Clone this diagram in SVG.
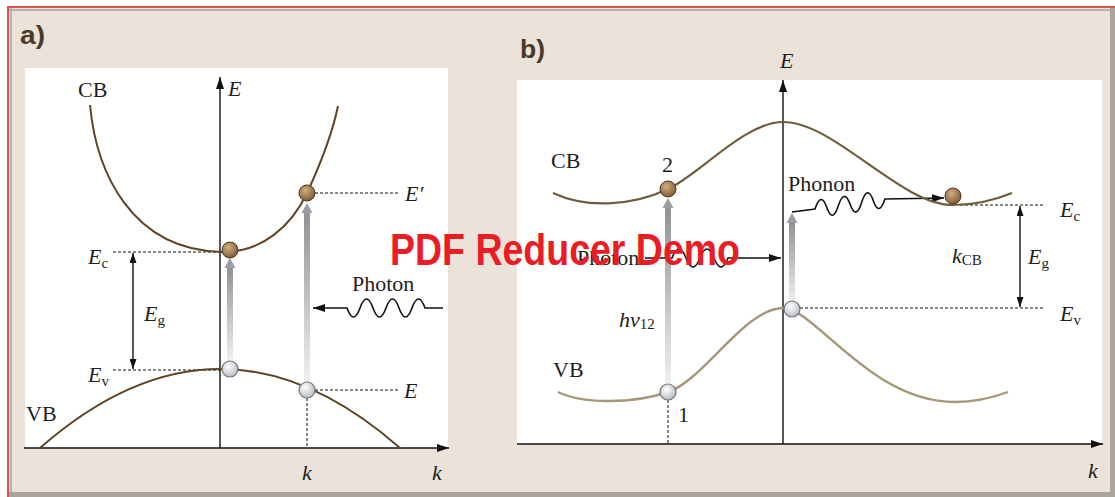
<svg xmlns="http://www.w3.org/2000/svg" width="1115" height="497" viewBox="0 0 1115 497">
<style>
.t{font-family:"Liberation Serif",serif;font-size:22px;fill:#1e1e1e}
.i{font-style:italic}
.s{font-size:15px;font-style:normal}
.pl{font-family:"Liberation Sans",Arial,sans-serif;font-weight:bold;font-size:26px;fill:#4a3a2c}
.ax{stroke:#111;stroke-width:1.4;fill:none}
.dash{stroke:#111;stroke-width:1;stroke-dasharray:3 2;fill:none}
.cbA{stroke:#5e4526;stroke-width:2;fill:none}
.cbB{stroke:#6f5d3e;stroke-width:2.2;fill:none}
.vbB{stroke:#a7977a;stroke-width:2.4;fill:none}
.wave{stroke:#111;stroke-width:1.6;fill:none}
</style>
<defs>
<marker id="ah" viewBox="0 0 12 8" refX="12" refY="4" markerWidth="12" markerHeight="8" markerUnits="userSpaceOnUse" orient="auto-start-reverse"><path d="M0,0 L12,4 L0,8 z" fill="#111"/></marker>
<marker id="ahs" viewBox="0 0 10 7" refX="10" refY="3.5" markerWidth="10" markerHeight="7" markerUnits="userSpaceOnUse" orient="auto-start-reverse"><path d="M0,0 L10,3.5 L0,7 z" fill="#111"/></marker>
<linearGradient id="gg" x1="0" y1="0" x2="0" y2="1"><stop offset="0" stop-color="#8e9398"/><stop offset="1" stop-color="#f0f0f0"/></linearGradient>
<radialGradient id="brown" cx="0.4" cy="0.35" r="0.7"><stop offset="0" stop-color="#d2ae82"/><stop offset="1" stop-color="#7a5631"/></radialGradient>
<radialGradient id="white" cx="0.4" cy="0.35" r="0.7"><stop offset="0" stop-color="#ffffff"/><stop offset="1" stop-color="#b4b8bd"/></radialGradient>
</defs>
<rect x="0" y="0" width="1115" height="497" fill="#ffffff"/>
<rect x="7" y="7" width="1108" height="490" fill="#ebe3d9"/>
<rect x="1110" y="8" width="5" height="489" fill="#aaa49e"/>
<rect x="7" y="492" width="1108" height="5" fill="#aaa49e"/>
<line x1="8" y1="10" x2="1110" y2="10" stroke="#b9b3ad" stroke-width="2"/>
<line x1="11" y1="8" x2="11" y2="492" stroke="#b9b3ad" stroke-width="2"/>
<line x1="7" y1="7" x2="1115" y2="7" stroke="#d9534f" stroke-width="2"/>
<line x1="8" y1="7" x2="8" y2="497" stroke="#d9534f" stroke-width="2"/>
<rect x="25" y="68" width="423" height="380" fill="#ffffff"/>
<rect x="517" y="80" width="585" height="364" fill="#ffffff"/>
<text class="pl" x="20" y="44" textLength="25" lengthAdjust="spacingAndGlyphs">a)</text>
<text class="pl" x="520" y="58" textLength="25" lengthAdjust="spacingAndGlyphs">b)</text>

<g id="connectors">
<line class="ax" x1="24" y1="448" x2="449" y2="448" marker-end="url(#ah)"/>
<line class="ax" x1="220" y1="448" x2="220" y2="77" stroke-width="1.1" marker-end="url(#ah)"/>
<line class="ax" x1="517" y1="444" x2="1103" y2="444" marker-end="url(#ah)"/>
<line class="ax" x1="783" y1="444" x2="783" y2="80" stroke-width="1.1" marker-end="url(#ah)"/>
<line class="dash" x1="113" y1="252" x2="222" y2="252"/>
<line class="dash" x1="113" y1="370" x2="222" y2="370"/>
<line class="dash" x1="315" y1="193" x2="398" y2="193"/>
<line class="dash" x1="315" y1="390" x2="400" y2="390"/>
<line class="dash" x1="307" y1="398" x2="307" y2="448"/>
<line class="dash" x1="960" y1="205" x2="1045" y2="205"/>
<line class="dash" x1="800" y1="308" x2="1045" y2="308"/>
<line class="dash" x1="668" y1="400" x2="668" y2="444"/>
<line class="ax" x1="133" y1="253" x2="133" y2="369" stroke-width="1.2" marker-start="url(#ahs)" marker-end="url(#ahs)"/>
<line class="ax" x1="1020" y1="206" x2="1020" y2="307" stroke-width="1.2" marker-start="url(#ahs)" marker-end="url(#ahs)"/>
<path class="wave" d="M443,308 L425,308 Q418.5,290 412,308 T399,308 T386,308 T373,308 T360,308 T347,308 L313,308" marker-end="url(#ah)"/>
<path class="wave" d="M792,212 L815,209 Q821,191 826.7,207.3 Q832.5,224 838.3,205.7 Q844,188 850,204 Q856,221 861.7,202.3 Q867.5,184 873.3,200.7 Q879,217 885,199 L944,198" marker-end="url(#ah)"/>
<path class="wave" d="M645,258 L672,258 Q679,240 686,258 T700,258 T714,258 T728,258 L781,258" marker-end="url(#ah)"/>
</g>

<g id="band-a-cb"><path class="cbA" d="M90,105 C96,170 130,250 222,252 C262,253 292,225 307,193 C320,165 332,135 338,106"/></g>
<g id="band-a-vb"><path class="cbA" d="M40,448 Q220,290 400,448"/></g>
<g id="band-b-cb"><path class="cbB" d="M553,193 C585,208 630,207 668,189 C700,174 745,122 783,122 C835,122 900,205 953,205 C975,205 995,200 1012,193"/></g>
<g id="band-b-vb"><path class="vbB" d="M558,392 C580,403 630,405 668,392 C703,381 745,308 783,308 C815,308 870,402 955,402 C975,402 992,398 1008,392"/></g>

<g id="transitions">
<rect x="227" y="266" width="6" height="96" fill="url(#gg)"/><polygon points="230,258 224.5,268 235.5,268" fill="#9a9ea3"/>
<rect x="304" y="212" width="6" height="170" fill="url(#gg)"/><polygon points="307,203 301.5,213 312.5,213" fill="#9a9ea3"/>
<rect x="665" y="206" width="6" height="178" fill="url(#gg)"/><polygon points="668,198 662.5,208 673.5,208" fill="#9a9ea3"/>
<rect x="789" y="222" width="6" height="80" fill="url(#gg)"/><polygon points="792,213 786.5,223 797.5,223" fill="#9a9ea3"/>
</g>

<g id="electrons" stroke="#4f3a22" stroke-width="1">
<circle cx="230" cy="250" r="8" fill="url(#brown)"/>
<circle cx="307" cy="193" r="8" fill="url(#brown)"/>
<circle cx="668" cy="189" r="8" fill="url(#brown)"/>
<circle cx="953" cy="196" r="8" fill="url(#brown)"/>
</g>
<g id="holes" stroke="#6e747b" stroke-width="1.2">
<circle cx="230" cy="369" r="8" fill="url(#white)"/>
<circle cx="307" cy="390" r="8" fill="url(#white)"/>
<circle cx="668" cy="392" r="8" fill="url(#white)"/>
<circle cx="792" cy="309" r="8" fill="url(#white)"/>
</g>

<g id="labels-a">
<text class="t" x="78" y="97">CB</text>
<text class="t i" x="228" y="96">E</text>
<text class="t i" x="405" y="201">E′</text>
<text class="t i" x="88" y="264">E<tspan class="s" dy="4">c</tspan></text>
<text class="t i" x="144" y="321">E<tspan class="s" dy="4">g</tspan></text>
<text class="t i" x="88" y="382">E<tspan class="s" dy="4">v</tspan></text>
<text class="t" x="26" y="421">VB</text>
<text class="t i" x="404" y="398">E</text>
<text class="t" x="352" y="291">Photon</text>
<text class="t i" x="302" y="480">k</text>
<text class="t i" x="432" y="480">k</text>
</g>
<g id="labels-b">
<text class="t i" x="780" y="68">E</text>
<text class="t" x="551" y="168">CB</text>
<text class="t" x="662" y="172">2</text>
<text class="t" x="788" y="191">Phonon</text>
<text class="t i" x="1060" y="217">E<tspan class="s" dy="4">c</tspan></text>
<text class="t i" x="952" y="263">k<tspan class="s" dy="2">CB</tspan></text>
<text class="t i" x="1028" y="264">E<tspan class="s" dy="4">g</tspan></text>
<text class="t i" x="619" y="327">hv<tspan class="s" dy="2">12</tspan></text>
<text class="t i" x="1060" y="321">E<tspan class="s" dy="4">v</tspan></text>
<text class="t" x="553" y="377">VB</text>
<text class="t" x="678" y="422">1</text>
<text class="t" x="577" y="265">Photon</text>
<text class="t i" x="1088" y="478">k</text>
</g>
<text x="390" y="265" font-family="Liberation Sans, Arial, sans-serif" font-weight="bold" font-size="44" fill="#ec1c24" textLength="350" lengthAdjust="spacingAndGlyphs">PDF Reducer Demo</text>
</svg>
